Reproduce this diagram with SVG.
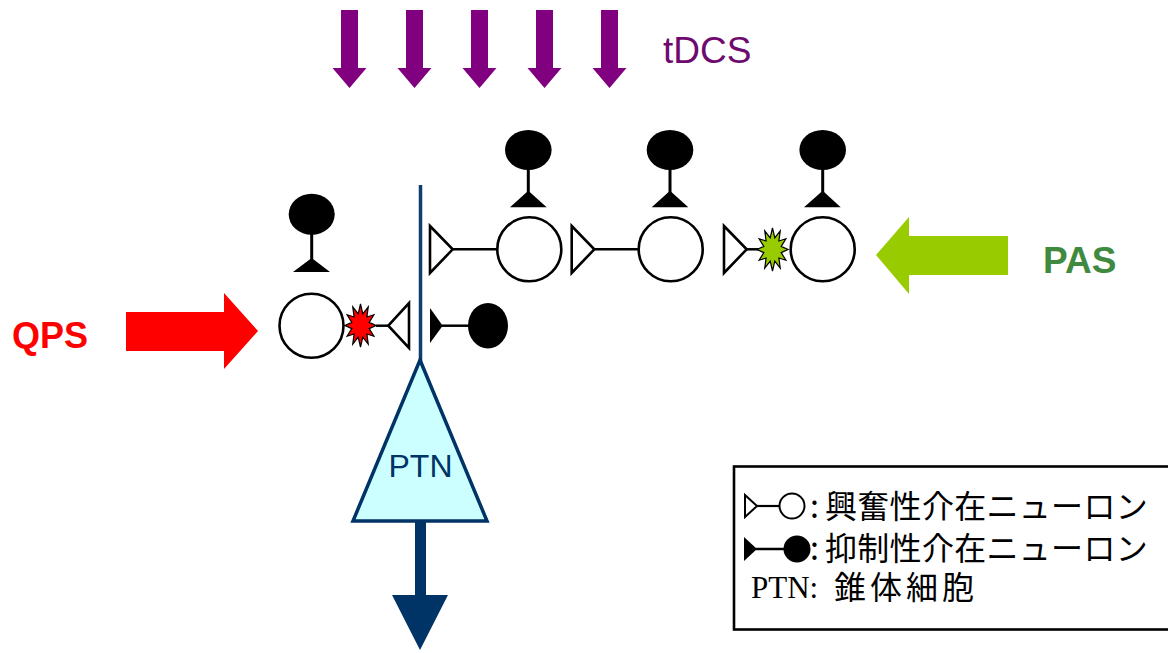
<svg xmlns="http://www.w3.org/2000/svg" xmlns:xlink="http://www.w3.org/1999/xlink" width="1168" height="653" viewBox="0 0 1168 653">
<style>
.ex{fill:#fff;stroke:#000;stroke-width:2.6}
.inh{fill:#000;stroke:none}
.stem{stroke:#000;stroke-width:3;fill:none}
.wire{stroke:#000;stroke-width:2.5;fill:none}
.lbl{font-family:"Liberation Sans",Arial,sans-serif}
.jp{font-family:"Noto Sans CJK JP","Noto Sans CJK SC",sans-serif;font-size:32px;fill:#000}
</style>
<defs>
<polygon id="tdcs-arrow" points="-8.5,10 8.5,10 8.5,68 17,68 0,88 -17,68 -8.5,68" fill="#800080"/>
<path id="star" stroke="#000" stroke-width="1.2" stroke-linejoin="miter" d="M0,-21.5 L2.3,-11.6 L7.75,-18.6 L6.4,-8.5 L13.4,-10.75 L8.7,-3.1 L15.5,0 L8.7,3.1 L13.4,10.75 L6.4,8.5 L7.75,18.6 L2.3,11.6 L0,21.5 L-2.3,11.6 L-7.75,18.6 L-6.4,8.5 L-13.4,10.75 L-8.7,3.1 L-15.5,0 L-8.7,-3.1 L-13.4,-10.75 L-6.4,-8.5 L-7.75,-18.6 L-2.3,-11.6 Z"/>
</defs>
<rect width="1168" height="653" fill="#fff"/>

<g id="tdcs">
<use xlink:href="#tdcs-arrow" href="#tdcs-arrow" x="349.5" y="0"/>
<use xlink:href="#tdcs-arrow" href="#tdcs-arrow" x="414.5" y="0"/>
<use xlink:href="#tdcs-arrow" href="#tdcs-arrow" x="479.5" y="0"/>
<use xlink:href="#tdcs-arrow" href="#tdcs-arrow" x="544.5" y="0"/>
<use xlink:href="#tdcs-arrow" href="#tdcs-arrow" x="609.5" y="0"/>
<text class="lbl" x="663" y="63" font-size="37" fill="#6e0a6e">tDCS</text>
</g>

<g id="qps">
<text class="lbl" x="12" y="348" font-size="36" font-weight="bold" fill="#ff0000">QPS</text>
<polygon points="126,312 224,312 224,293 258,331 224,369 224,351 126,351" fill="#ff0000"/>
</g>

<g id="pas">
<polygon points="1008,236 909,236 909,217 876,255 909,294 909,275 1008,275" fill="#99cc00"/>
<text class="lbl" x="1043" y="273" font-size="37" font-weight="bold" fill="#3f8a3f">PAS</text>
</g>

<g id="connectors">
<line x1="420.5" y1="185" x2="420.5" y2="362" stroke="#0f3d6e" stroke-width="3.5"/>
<line class="wire" x1="376" y1="325.7" x2="388" y2="325.7"/>
<line class="wire" x1="442" y1="325.7" x2="470" y2="325.7"/>
<line class="wire" x1="452.7" y1="249.3" x2="497" y2="249.3"/>
<line class="wire" x1="594.3" y1="249.3" x2="638" y2="249.3"/>
<line class="wire" x1="746.7" y1="249.3" x2="760" y2="249.3"/>
</g>

<g id="ptn">
<polygon points="420,360 487,521 353,521" fill="#ccffff" stroke="#003366" stroke-width="3.5" stroke-linejoin="miter"/>
<text class="lbl" x="420.5" y="477" font-size="32" fill="#003366" text-anchor="middle">PTN</text>
<polygon points="415,521 426,521 426,595 448,595 420,650 392,595 415,595" fill="#003366"/>
</g>

<g id="inhib-left">
<ellipse class="inh" cx="311.7" cy="214.3" rx="23" ry="20.5"/>
<line class="stem" x1="311.7" y1="232" x2="311.7" y2="260"/>
<polygon class="inh" points="311.7,258 293,272 330,272"/>
</g>

<g id="excit-left">
<circle class="ex" cx="311.5" cy="325.7" r="32"/>
<use xlink:href="#star" href="#star" x="360.5" y="325.5" fill="#ff0000"/>
<polygon class="ex" points="388.3,325.7 409,303 409,348" stroke-width="3"/>
</g>

<g id="inhib-right">
<polygon class="inh" points="430,308 442.7,325.7 430,343"/>
<ellipse class="inh" cx="488" cy="325.7" rx="20" ry="22.8"/>
</g>

<g id="inhib-top1">
<ellipse class="inh" cx="528.3" cy="150" rx="23.3" ry="20"/>
<line class="stem" x1="528.3" y1="166" x2="528.3" y2="193"/>
<polygon class="inh" points="528.3,190.7 510,207.3 546.7,207.3"/>
</g>
<g id="inhib-top2">
<ellipse class="inh" cx="670" cy="150" rx="23.3" ry="20"/>
<line class="stem" x1="670" y1="166" x2="670" y2="193"/>
<polygon class="inh" points="670,190.7 651.7,207.3 688.3,207.3"/>
</g>
<g id="inhib-top3">
<ellipse class="inh" cx="822.7" cy="150" rx="23.3" ry="20"/>
<line class="stem" x1="822.7" y1="166" x2="822.7" y2="193"/>
<polygon class="inh" points="822.7,190.7 804,207.3 840.7,207.3"/>
</g>

<g id="excit-top1">
<polygon class="ex" points="430,226 452.7,249.3 430,273" stroke-width="3"/>
<circle class="ex" cx="529.3" cy="249.3" r="32"/>
</g>
<g id="excit-top2">
<polygon class="ex" points="571.7,226 594.3,249.3 571.7,273" stroke-width="3"/>
<circle class="ex" cx="670.7" cy="249.3" r="32"/>
</g>
<g id="excit-top3">
<polygon class="ex" points="724,226 746.7,249.3 724,273" stroke-width="3"/>
<circle class="ex" cx="822.7" cy="249.3" r="32"/>
<use xlink:href="#star" href="#star" x="772.5" y="249.5" fill="#99cc00"/>
</g>

<g id="legend">
<rect x="734" y="466.5" width="500" height="163" fill="#fff" stroke="#000" stroke-width="2.6"/>
<polygon points="745,495 757,506 745,517" fill="#fff" stroke="#000" stroke-width="2"/>
<line x1="757" y1="506" x2="779" y2="506" stroke="#000" stroke-width="2.2"/>
<circle cx="792" cy="506" r="12.5" fill="#fff" stroke="#000" stroke-width="2"/>
<text class="jp" x="810" y="518"><tspan>:</tspan><tspan x="825" letter-spacing="0.3">興奮性介在ニューロン</tspan></text>
<polygon points="744,537 757,549 744,561" fill="#000"/>
<line x1="756" y1="549" x2="784" y2="549" stroke="#000" stroke-width="2.5"/>
<circle cx="797" cy="549" r="13.5" fill="#000"/>
<text class="jp" x="810" y="560"><tspan>:</tspan><tspan x="825" letter-spacing="0.3">抑制性介在ニューロン</tspan></text>
<text x="751" y="598" font-family="'Liberation Serif','Times New Roman',serif" font-size="31" fill="#000">PTN:</text>
<text class="jp" x="834" y="599" letter-spacing="4">錐体細胞</text>
</g>
</svg>
